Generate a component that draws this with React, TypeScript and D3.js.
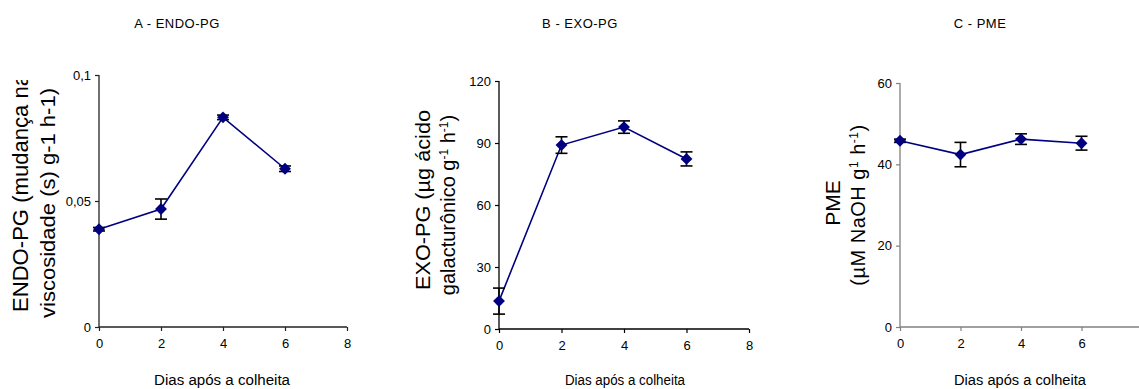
import React, { useRef, useEffect } from 'react';
import * as d3 from 'd3';

// dias após a colheita
const days = [0, 2, 4, 6];
const xTicks = [0, 2, 4, 6, 8];

// A - ENDO-PG
const endoPG = [0.0388, 0.0468, 0.0832, 0.0628];
const endoPGErr = [0.0007, 0.004, 0.0009, 0.0011];
const endoTicks = [0, 0.05, 0.1];
const endoTickLabels = ['0', '0,05', '0,1'];

// B - EXO-PG
const exoPG = [13.5, 89, 97.7, 82.3];
const exoPGErr = [6.3, 4, 3, 3.4];
const exoTicks = [0, 30, 60, 90, 120];

// C - PME
const pme = [45.8, 42.4, 46.2, 45.2];
const pmeErr = [0.4, 3, 1.3, 1.7];
const pmeTicks = [0, 20, 40, 60];

const W = 1139;
const H = 389;
const NARROW = '"Liberation Sans Narrow", "Liberation Sans", Arial, sans-serif';
const SANS = '"Liberation Sans", Arial, sans-serif';
const NAVY = '#000080';

interface Panel {
  title: string;
  titleX: number;
  values: number[];
  errors: number[];
  yMax: number;
  yTicks: number[];
  yTickLabels: string[];
  xRange: [number, number];
  yRange: [number, number];
  axisColor: string;
  xTitleX: number;
  xTitleLen: number;
}

const panels: Panel[] = [
  {
    title: 'A - ENDO-PG', titleX: 177, values: endoPG, errors: endoPGErr, yMax: 0.1,
    yTicks: endoTicks, yTickLabels: endoTickLabels, xRange: [99, 347], yRange: [327, 75],
    axisColor: '#222', xTitleX: 222, xTitleLen: 136,
  },
  {
    title: 'B - EXO-PG', titleX: 580, values: exoPG, errors: exoPGErr, yMax: 120,
    yTicks: exoTicks, yTickLabels: exoTicks.map(String), xRange: [499, 749], yRange: [329, 81],
    axisColor: '#000', xTitleX: 625, xTitleLen: 120,
  },
  {
    title: 'C - PME', titleX: 980, values: pme, errors: pmeErr, yMax: 60,
    yTicks: pmeTicks, yTickLabels: pmeTicks.map(String), xRange: [900, 1142], yRange: [327, 83],
    axisColor: '#808080', xTitleX: 1020, xTitleLen: 132,
  },
];

const App: React.FC = () => {
  const svgRef = useRef<SVGSVGElement>(null);

  useEffect(() => {
    if (!svgRef.current) return;
    const svg = d3.select(svgRef.current);
    svg.selectAll('*').remove();

    svg.append('rect').attr('width', W).attr('height', H).attr('fill', '#fff');

    // clip para o rótulo do painel A (cortado no original)
    svg.append('defs').append('clipPath').attr('id', 'clipA')
      .append('rect').attr('x', 0).attr('y', 80).attr('width', 80).attr('height', 300);

    panels.forEach(p => {
      const x = d3.scaleLinear().domain([0, 8]).range(p.xRange);
      const y = d3.scaleLinear().domain([0, p.yMax]).range(p.yRange);
      const g = svg.append('g');

      // eixos
      const yAxis = g.append('g')
        .attr('transform', `translate(${p.xRange[0]},0)`)
        .call(d3.axisLeft(y).tickValues(p.yTicks).tickSize(4).tickPadding(4)
          .tickFormat((_, i) => p.yTickLabels[i]));
      const xAxis = g.append('g')
        .attr('transform', `translate(0,${p.yRange[0]})`)
        .call(d3.axisBottom(x).tickValues(xTicks).tickSize(4).tickPadding(8)
          .tickFormat(d3.format('d')));
      [yAxis, xAxis].forEach(a => {
        a.select('.domain').remove();
        a.selectAll('.tick line').attr('stroke', p.axisColor).attr('stroke-width', 1.2);
        a.selectAll('.tick text').attr('fill', '#000')
          .style('font-family', NARROW).style('font-size', '13px');
      });
      g.append('line')
        .attr('x1', p.xRange[0]).attr('x2', p.xRange[0])
        .attr('y1', p.yRange[0]).attr('y2', p.yRange[1])
        .attr('stroke', p.axisColor).attr('stroke-width', 1.3);
      g.append('line')
        .attr('x1', p.xRange[0]).attr('x2', p.xRange[1])
        .attr('y1', p.yRange[0]).attr('y2', p.yRange[0])
        .attr('stroke', p.axisColor).attr('stroke-width', 1.3);

      // linha
      const line = d3.line<number>()
        .x((_, i) => x(days[i]))
        .y(d => y(d));
      g.append('path')
        .datum(p.values)
        .attr('fill', 'none')
        .attr('stroke', NAVY)
        .attr('stroke-width', 1.6)
        .attr('d', line);

      // barras de erro
      p.values.forEach((v, i) => {
        const cx = x(days[i]);
        const top = y(v + p.errors[i]);
        const bot = y(v - p.errors[i]);
        const eg = g.append('g').attr('stroke', '#000').attr('stroke-width', 1.6);
        eg.append('line').attr('x1', cx).attr('x2', cx).attr('y1', top).attr('y2', bot);
        eg.append('line').attr('x1', cx - 6).attr('x2', cx + 6).attr('y1', top).attr('y2', top);
        eg.append('line').attr('x1', cx - 6).attr('x2', cx + 6).attr('y1', bot).attr('y2', bot);
      });

      // marcadores
      g.selectAll('path.mk')
        .data(p.values)
        .join('path')
        .attr('class', 'mk')
        .attr('transform', (d, i) => `translate(${x(days[i])},${y(d)})`)
        .attr('d', d3.symbol(d3.symbolDiamond2, 90)())
        .attr('fill', NAVY);

      // título
      svg.append('text')
        .attr('x', p.titleX).attr('y', 28)
        .attr('text-anchor', 'middle')
        .style('font-family', NARROW).style('font-size', '13px')
        .attr('letter-spacing', 0.5)
        .text(p.title);

      // título do eixo x
      svg.append('text')
        .attr('x', p.xTitleX).attr('y', 385)
        .attr('text-anchor', 'middle')
        .attr('textLength', p.xTitleLen).attr('lengthAdjust', 'spacingAndGlyphs')
        .style('font-family', NARROW).style('font-size', '14px')
        .text('Dias após a colheita');
    });

    // rótulos do eixo y
    const rot = (x: number, yc: number) => `translate(${x},${yc}) rotate(-90)`;

    // A
    svg.append('g').attr('clip-path', 'url(#clipA)')
      .append('text')
      .attr('transform', rot(28, 312))
      .attr('textLength', 238).attr('lengthAdjust', 'spacingAndGlyphs')
      .style('font-family', SANS).style('font-size', '22px')
      .text('ENDO-PG  (mudança na');
    svg.append('text')
      .attr('transform', rot(55, 203))
      .attr('text-anchor', 'middle')
      .attr('textLength', 230).attr('lengthAdjust', 'spacingAndGlyphs')
      .style('font-family', SANS).style('font-size', '21px')
      .text('viscosidade  (s)  g-1  h-1)');

    // B
    svg.append('text')
      .attr('transform', rot(430, 200))
      .attr('text-anchor', 'middle')
      .attr('textLength', 180).attr('lengthAdjust', 'spacingAndGlyphs')
      .style('font-family', SANS).style('font-size', '21px')
      .text('EXO-PG  (µg ácido');
    const b2 = svg.append('text')
      .attr('transform', rot(455, 205))
      .attr('text-anchor', 'middle')
      .style('font-family', SANS).style('font-size', '20px');
    b2.append('tspan').text('galacturônico g');
    b2.append('tspan').attr('baseline-shift', 'super').style('font-size', '12px').text('-1');
    b2.append('tspan').text(' h');
    b2.append('tspan').attr('baseline-shift', 'super').style('font-size', '12px').text('-1');
    b2.append('tspan').text(')');

    // C
    svg.append('text')
      .attr('transform', rot(840, 203))
      .attr('text-anchor', 'middle')
      .style('font-family', SANS).style('font-size', '21px')
      .text('PME');
    const c2 = svg.append('text')
      .attr('transform', rot(865, 205))
      .attr('text-anchor', 'middle')
      .style('font-family', SANS).style('font-size', '20px')
      .attr('letter-spacing', 0.5);
    c2.append('tspan').text('(µM NaOH g');
    c2.append('tspan').attr('baseline-shift', 'super').style('font-size', '12px').text('1');
    c2.append('tspan').text(' h');
    c2.append('tspan').attr('baseline-shift', 'super').style('font-size', '12px').text('-1');
    c2.append('tspan').text(')');
  }, []);

  return (
    <svg ref={svgRef} width={W} height={H}
      style={{ position: 'absolute', left: 0, top: 0, display: 'block' }} />
  );
};

export default App;
